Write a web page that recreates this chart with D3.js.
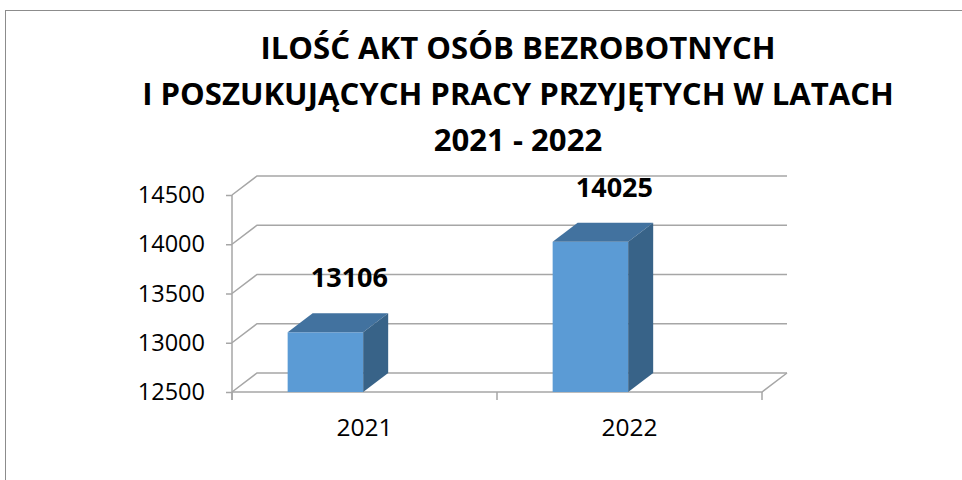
<!DOCTYPE html>
<html>
<head>
<meta charset="utf-8">
<script src="https://cdn.jsdelivr.net/npm/d3@7"></script>
<style>
  body { margin: 0; background: #fff; }
  #chart { width: 962px; height: 480px; }
  text { font-family: "Open Sans", "Noto Sans", sans-serif; fill: #000; }
</style>
</head>
<body>
<div id="chart"></div>
<script>
var titleLines = ["ILOŚĆ AKT OSÓB BEZROBOTNYCH", "I POSZUKUJĄCYCH PRACY PRZYJĘTYCH W LATACH", "2021 - 2022"];
var years = ["2021", "2022"];
var values = [13106, 14025];
var yTicks = [12500, 13000, 13500, 14000, 14500];

var width = 962;
var height = 480;
var depth = {x: 25, y: -19};

var svg = d3.select("#chart")
    .append("svg")
    .attr("width", width)
    .attr("height", height);

// chart frame
svg.append("rect")
    .attr("x", 5.5)
    .attr("y", 10.5)
    .attr("width", width + 10)
    .attr("height", height + 10)
    .attr("fill", "none")
    .attr("stroke", "#8c8c8c")
    .attr("stroke-width", 1);

var xScale = d3.scaleBand()
    .domain(years)
    .range([232, 762]);

var yScale = d3.scaleLinear()
    .domain([12500, 14500])
    .range([392, 195]);

var gridColor = "#a6a6a6";
var x0 = xScale.range()[0], x1 = xScale.range()[1];

// gridlines: diagonal on side wall + horizontal on back wall
var grid = svg.append("g").attr("stroke", gridColor).attr("stroke-width", 1.5).attr("fill", "none");
grid.selectAll("path.grid")
    .data(yTicks)
    .enter()
    .append("path")
    .attr("class", "grid")
    .attr("d", function(d) {
        var y = yScale(d);
        return "M" + x0 + "," + y + "L" + (x0 + depth.x) + "," + (y + depth.y) + "L" + (x1 + depth.x) + "," + (y + depth.y);
    });

// floor
grid.append("path")
    .attr("d", "M" + x0 + "," + yScale(12500) + "L" + x1 + "," + yScale(12500) + "L" + (x1 + depth.x) + "," + (yScale(12500) + depth.y));

// y axis
var yAxis = svg.append("g")
    .attr("transform", "translate(" + x0 + ",0)")
    .call(d3.axisLeft(yScale).tickValues(yTicks).tickSize(6).tickPadding(21).tickFormat(d3.format("d")));
yAxis.selectAll("line, path").attr("stroke", gridColor).attr("stroke-width", 1.5);
yAxis.select("path").attr("d", "M0," + yScale(14500) + "V" + (yScale(12500) + 8));
yAxis.selectAll("text").style("font-size", "23.5px").attr("fill", "#000");

// x axis
var xAxis = svg.append("g")
    .attr("transform", "translate(0," + yScale(12500) + ")")
    .call(d3.axisBottom(xScale).tickSize(0).tickPadding(27));
xAxis.select("path").remove();
xAxis.selectAll("text").style("font-size", "24.5px").attr("fill", "#000");
// separator ticks between categories
svg.append("g").selectAll("line")
    .data(years.concat(["end"]))
    .enter()
    .append("line")
    .attr("x1", function(d, i) { return x0 + i * xScale.step(); })
    .attr("x2", function(d, i) { return x0 + i * xScale.step(); })
    .attr("y1", yScale(12500))
    .attr("y2", yScale(12500) + 8)
    .attr("stroke", gridColor)
    .attr("stroke-width", 1.5);

// 3D bars
var barOffset = xScale.bandwidth() * 0.21;
var barWidth = xScale.bandwidth() * 0.285;

var bars = svg.selectAll("g.bar")
    .data(values)
    .enter()
    .append("g")
    .attr("class", "bar");

bars.append("rect")
    .attr("x", function(d, i) { return xScale(years[i]) + barOffset; })
    .attr("y", function(d) { return yScale(d); })
    .attr("width", barWidth)
    .attr("height", function(d) { return yScale(12500) - yScale(d); })
    .attr("fill", "#5b9bd5");

bars.append("path")
    .attr("fill", "#42729f")
    .attr("d", function(d, i) {
        var bx = xScale(years[i]) + barOffset, by = yScale(d);
        return "M" + bx + "," + by + "l" + depth.x + "," + depth.y + "h" + barWidth + "l" + (-depth.x) + "," + (-depth.y) + "Z";
    });

bars.append("path")
    .attr("fill", "#386388")
    .attr("d", function(d, i) {
        var bx = xScale(years[i]) + barOffset + barWidth, by = yScale(d);
        return "M" + bx + "," + by + "l" + depth.x + "," + depth.y + "V" + (yScale(12500) + depth.y) + "l" + (-depth.x) + "," + (-depth.y) + "Z";
    });

// data labels
bars.append("text")
    .attr("x", function(d, i) { return xScale(years[i]) + barOffset + barWidth / 2 + 24; })
    .attr("y", function(d) { return yScale(d) - 45; })
    .attr("text-anchor", "middle")
    .style("font-size", "27px")
    .style("font-weight", "bold")
    .text(function(d) { return d; });

// title
var title = svg.append("text")
    .attr("text-anchor", "middle")
    .style("font-weight", "bold")
    .style("font-size", "30px");
title.selectAll("tspan")
    .data(titleLines)
    .enter()
    .append("tspan")
    .attr("x", 518)
    .attr("y", function(d, i) { return 59 + i * 46; })
    .text(function(d) { return d; });

var w = title.select("tspan:nth-child(2)").node().getComputedTextLength();
title.style("font-size", (30 * 752 / w) + "px");
</script>
</body>
</html>
